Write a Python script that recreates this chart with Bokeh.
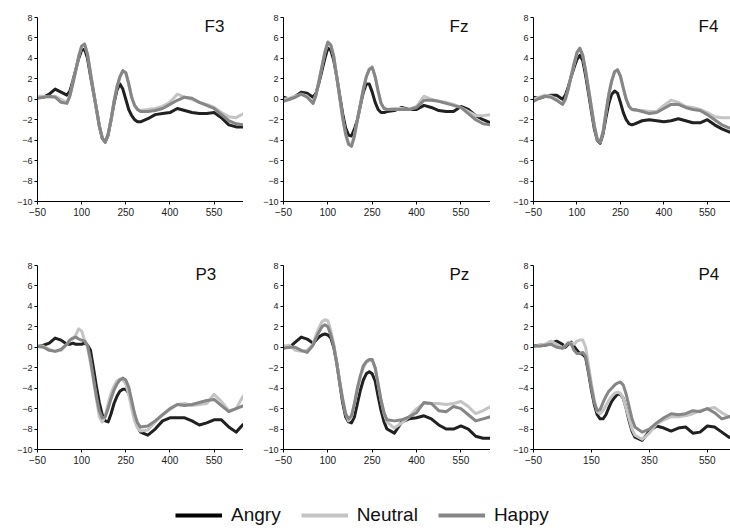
from bokeh.plotting import figure
from bokeh.layouts import column, row
from bokeh.models import FixedTicker, Label, Legend, LegendItem, Range1d
from bokeh.embed import file_html
from bokeh.resources import INLINE

# ---------------- data (ms, microvolts) ----------------
TIME = [-50, -30, -10, 10, 30, 50,
        60, 70, 80, 90, 100, 110, 120, 130, 140, 150, 160, 170, 180, 190, 200,
        210, 220, 230, 240, 250, 260, 270, 280, 290, 300,
        325, 350, 375, 400, 425, 450, 475, 500, 525, 550, 575, 600, 625, 650]

CONDITIONS = ["Angry", "Neutral", "Happy"]
PANELS = ["F3", "Fz", "F4", "P3", "Pz", "P4"]
Y_TICKS = [-10, -8, -6, -4, -2, 0, 2, 4, 6, 8]
X_TICKS_A = [-50, 100, 250, 400, 550]
X_TICKS_B = [-50, 150, 350, 550]

F3_ANGRY = [0.2, 0.2, 0.5, 1.0, 0.7, 0.4,
            0.8, 1.8, 2.9, 4.0, 4.8, 4.9, 4.0, 2.3, 0.7, -0.9, -2.6, -3.8, -4.2, -3.5, -2.0,
            -0.4, 0.9, 1.5, 1.0, 0.0, -1.0, -1.6, -2.0, -2.2, -2.2,
            -1.9, -1.5, -1.4, -1.3, -0.9, -1.1, -1.3, -1.4, -1.4, -1.3, -1.8, -2.5, -2.7, -2.7]
F3_NEUTRAL = [0.3, 0.3, 0.2, 0.3, 0.0, -0.3,
              0.4, 1.6, 2.8, 4.2, 5.2, 5.4, 4.4, 2.6, 0.8, -0.9, -2.6, -3.8, -4.2, -3.4, -2.0,
              -0.2, 1.2, 2.2, 2.8, 2.6, 1.5, 0.2, -0.6, -1.0, -1.1,
              -1.0, -0.9, -0.7, -0.3, 0.5, 0.2, 0.0, -0.3, -0.5, -0.8, -1.3, -1.7, -1.8, -1.4]
F3_HAPPY = [0.1, 0.2, 0.3, 0.2, -0.3, -0.4,
            0.3, 1.5, 2.8, 4.2, 5.2, 5.4, 4.4, 2.6, 0.8, -0.9, -2.6, -3.8, -4.2, -3.4, -2.0,
            -0.2, 1.2, 2.2, 2.8, 2.6, 1.5, 0.2, -0.6, -1.0, -1.2,
            -1.2, -1.1, -0.9, -0.5, -0.1, 0.2, 0.1, -0.3, -0.6, -0.9, -1.5, -2.1, -2.4, -2.5]

FZ_ANGRY = [0.2, 0.0, 0.3, 0.7, 0.6, 0.2,
            0.6, 1.6, 2.8, 4.0, 5.0, 4.8, 3.8, 2.2, 0.4, -1.4, -2.8, -3.5, -3.6, -2.9, -2.0,
            -0.6, 0.7, 1.5, 1.5, 0.7, -0.3, -1.0, -1.3, -1.3, -1.2,
            -1.1, -0.8, -1.0, -1.0, -0.6, -0.8, -1.1, -1.2, -1.2, -0.7, -1.0, -1.6, -2.0, -2.3]
FZ_NEUTRAL = [0.0, 0.1, 0.3, 0.5, 0.3, -0.3,
              0.5, 1.8, 3.2, 4.6, 5.5, 5.3, 4.2, 2.2, 0.2, -1.8, -3.4, -4.3, -4.5, -3.5, -2.0,
              -0.5, 1.0, 2.2, 3.0, 3.2, 2.2, 0.8, -0.4, -0.9, -1.0,
              -0.9, -0.9, -1.0, -0.7, 0.3, 0.0, -0.2, -0.3, -0.5, -0.8, -1.2, -1.6, -1.6, -1.5]
FZ_HAPPY = [-0.2, 0.0, 0.2, 0.5, 0.2, -0.4,
            0.4, 1.8, 3.2, 4.6, 5.6, 5.3, 4.2, 2.2, 0.2, -1.8, -3.4, -4.4, -4.6, -3.6, -2.0,
            -0.5, 1.0, 2.2, 2.9, 3.1, 2.2, 0.8, -0.4, -0.9, -1.0,
            -1.0, -1.0, -1.0, -0.8, -0.1, -0.1, -0.2, -0.4, -0.6, -0.8, -1.4, -2.0, -2.4, -2.5]

F4_ANGRY = [0.2, 0.1, 0.3, 0.4, 0.4, 0.0,
            0.4, 1.2, 2.2, 3.1, 3.9, 4.3, 3.8, 2.3, 0.6, -1.2, -2.9, -4.0, -4.3, -3.4, -1.8,
            -0.4, 0.5, 0.8, 0.6, -0.3, -1.3, -2.0, -2.4, -2.5, -2.4,
            -2.1, -2.0, -2.1, -2.2, -2.1, -1.9, -2.1, -2.3, -2.3, -2.0, -2.5, -2.9, -3.2, -3.3]
F4_NEUTRAL = [0.0, 0.2, 0.4, 0.3, 0.0, -0.5,
              0.0, 1.0, 2.3, 3.4, 4.5, 4.9, 4.3, 2.8, 1.0, -0.8, -2.6, -3.9, -4.2, -3.2, -1.3,
              0.5, 1.8, 2.7, 2.8, 2.2, 1.1, 0.0, -0.7, -1.0, -1.1,
              -1.1, -1.2, -1.2, -0.6, -0.1, -0.3, -0.7, -0.8, -1.0, -1.3, -1.7, -1.8, -1.8, -1.8]
F4_HAPPY = [-0.2, 0.1, 0.3, 0.2, -0.1, -0.5,
            0.0, 1.0, 2.3, 3.5, 4.6, 5.0, 4.3, 2.8, 1.0, -0.8, -2.6, -3.9, -4.2, -3.2, -1.3,
            0.5, 1.8, 2.7, 2.9, 2.3, 1.1, 0.0, -0.7, -1.0, -1.0,
            -1.2, -1.4, -1.3, -0.9, -0.5, -0.5, -0.8, -1.0, -1.1, -1.5, -2.0, -2.5, -2.8, -3.0]

P3_ANGRY = [0.1, 0.2, 0.4, 0.9, 0.7, 0.3,
            0.3, 0.4, 0.3, 0.3, 0.3, 0.4, 0.2, -0.3, -2.0, -3.8, -5.4, -6.6, -7.2, -7.3, -6.5,
            -5.5, -4.8, -4.3, -4.1, -4.1, -4.5, -5.5, -6.7, -7.8, -8.3,
            -8.6, -8.0, -7.2, -6.9, -6.9, -6.9, -7.2, -7.6, -7.4, -7.1, -7.1, -7.8, -8.3, -7.5]
P3_NEUTRAL = [0.2, 0.1, -0.2, -0.4, -0.3, 0.3,
              0.7, 0.8, 1.2, 1.8, 1.6, 0.7, 0.0, -1.5, -3.2, -5.0, -6.8, -7.3, -6.8, -5.5, -4.5,
              -3.8, -3.3, -3.1, -3.2, -3.6, -4.6, -6.0, -7.2, -7.9, -8.2,
              -8.1, -7.3, -6.6, -6.1, -5.6, -5.5, -5.7, -5.6, -5.5, -4.6, -5.3, -6.2, -6.0, -4.7]
P3_HAPPY = [0.1, 0.0, -0.3, -0.4, -0.2, 0.3,
            0.7, 0.9, 1.0, 0.8, 0.7, 0.6, 0.2, -1.2, -3.0, -4.8, -6.2, -6.9, -6.8, -6.0, -5.0,
            -4.2, -3.6, -3.2, -3.0, -3.2, -3.9, -5.2, -6.5, -7.4, -7.8,
            -7.7, -7.2, -6.6, -6.0, -5.6, -5.7, -5.6, -5.4, -5.2, -5.1, -5.7, -6.3, -6.0, -5.7]

PZ_ANGRY = [0.1, 0.0, 0.5, 1.0, 0.8, 0.4,
            0.7, 1.0, 1.2, 1.3, 1.2, 0.9, 0.0, -1.5, -3.5, -5.4, -6.8, -7.3, -7.4, -6.8, -5.5,
            -4.2, -3.2, -2.6, -2.4, -2.6, -3.3, -4.8, -6.2, -7.3, -8.0,
            -8.4, -7.3, -7.0, -6.9, -6.7, -7.0, -7.6, -8.0, -8.0, -7.7, -8.0, -8.7, -8.9, -8.9]
PZ_NEUTRAL = [0.1, 0.2, -0.3, -0.4, -0.3, 0.3,
              1.2, 1.9, 2.5, 2.7, 2.6, 1.6, 0.3, -1.5, -3.3, -5.0, -6.5, -7.2, -6.8, -5.5, -4.0,
              -2.8, -2.0, -1.5, -1.3, -1.3, -2.0, -3.6, -5.2, -6.5, -7.3,
              -7.9, -7.4, -6.8, -6.0, -5.5, -5.5, -5.5, -5.6, -5.5, -5.3, -5.8, -6.5, -6.2, -5.8]
PZ_HAPPY = [-0.1, 0.0, 0.0, -0.3, -0.5, 0.2,
            0.9, 1.5, 2.0, 2.2, 2.0, 1.2, 0.1, -1.6, -3.4, -5.1, -6.5, -7.0, -6.7, -5.5, -4.0,
            -2.8, -1.8, -1.4, -1.2, -1.2, -2.0, -3.6, -5.2, -6.4, -7.1,
            -7.2, -7.1, -6.8, -6.4, -5.4, -5.5, -6.2, -6.3, -5.8, -6.0, -6.6, -7.2, -7.0, -6.8]

P4_ANGRY = [0.1, 0.2, 0.2, 0.4, 0.6, 0.3,
            0.0, 0.3, 0.5, 0.1, -0.3, -0.6, -0.7, -1.0, -2.5, -4.2, -5.6, -6.6, -7.0, -7.0, -6.6,
            -5.9, -5.3, -4.9, -4.6, -4.6, -5.0, -6.0, -7.2, -8.2, -8.8,
            -9.1, -8.2, -7.7, -7.9, -8.2, -7.9, -7.8, -8.4, -8.3, -7.7, -7.8, -8.3, -8.8, -8.9]
P4_NEUTRAL = [0.1, 0.2, 0.3, 0.6, 0.3, -0.1,
              0.2, 0.5, 0.4, 0.3, 0.6, 0.7, 0.7, 0.0, -1.8, -3.6, -5.2, -6.3, -6.5, -6.2, -5.7,
              -5.2, -4.8, -4.5, -4.4, -4.5, -5.0, -6.0, -7.0, -8.0, -8.6,
              -9.0, -8.4, -7.5, -7.1, -6.8, -6.8, -6.7, -6.5, -6.2, -6.0, -5.9, -6.4, -6.8, -6.5]
P4_HAPPY = [0.2, 0.1, 0.2, 0.3, 0.0, -0.1,
            0.1, 0.4, 0.3, -0.3, -0.6, -0.6, -0.5, -0.9, -2.4, -4.0, -5.4, -6.2, -6.1, -5.4, -4.8,
            -4.3, -4.0, -3.7, -3.5, -3.4, -3.7, -4.6, -5.8, -7.0, -7.8,
            -8.3, -8.0, -7.4, -6.9, -6.5, -6.6, -6.5, -6.2, -6.3, -6.0, -6.4, -7.0, -6.8, -6.6]

# ---------------- styling ----------------
COLORS = {"Angry": "#202020", "Neutral": "#c4c4c4", "Happy": "#868686"}
FONT = "Liberation Sans"

SERIES = {
    "F3": [F3_ANGRY, F3_NEUTRAL, F3_HAPPY],
    "Fz": [FZ_ANGRY, FZ_NEUTRAL, FZ_HAPPY],
    "F4": [F4_ANGRY, F4_NEUTRAL, F4_HAPPY],
    "P3": [P3_ANGRY, P3_NEUTRAL, P3_HAPPY],
    "Pz": [PZ_ANGRY, PZ_NEUTRAL, PZ_HAPPY],
    "P4": [P4_ANGRY, P4_NEUTRAL, P4_HAPPY],
}

# layout per column: (figure width, left border, x range end)
COL_LAYOUT = [(243, 37, 650), (247, 40, 650), (240, 43, 630)]
ROW_LAYOUT = [(250, 17, 49), (225, 15, 26)]  # (height, top border, bottom border)
LABEL_DX = {"F3": 167, "Fz": 166, "F4": 165, "P3": 158, "Pz": 166, "P4": 165}
XTICKS = {"F3": X_TICKS_A, "Fz": X_TICKS_A, "F4": X_TICKS_A,
          "P3": X_TICKS_A, "Pz": X_TICKS_A, "P4": X_TICKS_B}


def make_panel(name, col, rw):
    w, left, x_end = COL_LAYOUT[col]
    h, top, bottom = ROW_LAYOUT[rw]
    p = figure(width=w, height=h, x_range=Range1d(-50, x_end), y_range=Range1d(-10, 8),
               output_backend="svg", toolbar_location=None, title=None,
               min_border_left=left, min_border_right=0, min_border_top=top,
               min_border_bottom=bottom)
    p.outline_line_color = None
    p.grid.visible = False
    p.background_fill_color = "white"
    p.border_fill_color = "white"
    p.xaxis.ticker = FixedTicker(ticks=XTICKS[name])
    p.yaxis.ticker = FixedTicker(ticks=Y_TICKS)
    for ax in (p.xaxis, p.yaxis):
        ax.axis_line_color = "black"
        ax.axis_line_width = 1
        ax.major_tick_line_color = "black"
        ax.major_tick_out = 3
        ax.major_tick_in = 0
        ax.minor_tick_out = 0
        ax.minor_tick_in = 0
        ax.major_label_text_font = FONT
        ax.major_label_text_color = "#1a1a1a"
    p.xaxis.major_label_text_font_size = "10px"
    p.yaxis.major_label_text_font_size = "9px"
    p.xaxis.major_label_standoff = 3
    p.yaxis.major_label_standoff = 2
    for cond, vals in zip(CONDITIONS, SERIES[name]):
        p.line(TIME, vals, line_color=COLORS[cond], line_width=3, line_join="round")
    frame_h = h - top - bottom
    p.add_layout(Label(x=LABEL_DX[name], y=frame_h + 1, x_units="screen", y_units="screen",
                       text=name, text_font=FONT, text_font_size="17px",
                       text_font_style="normal",
                       text_baseline="top", text_color="#111111"))
    return p


panels = [make_panel(n, i % 3, i // 3) for i, n in enumerate(PANELS)]

# legend strip
leg = figure(width=730, height=55, x_range=Range1d(0, 1), y_range=Range1d(0, 1),
             output_backend="svg", toolbar_location=None, title=None,
             x_axis_location=None, y_axis_location=None,
             min_border_left=0, min_border_right=0, min_border_top=0, min_border_bottom=0)
leg.outline_line_color = None
leg.grid.visible = False
items = []
for cond in CONDITIONS:
    r = leg.line([5, 6], [5, 6], line_color=COLORS[cond] if cond != "Angry" else "black",
                 line_width=4)
    items.append(LegendItem(label=cond, renderers=[r]))
legend = Legend(items=items, orientation="horizontal", location=(175, 4),
                glyph_width=47, glyph_height=20, label_height=20, label_standoff=9,
                spacing=20, padding=0, margin=0, border_line_color=None,
                background_fill_alpha=0, label_text_font=FONT,
                label_text_font_size="19px", label_text_color="#111111")
leg.add_layout(legend)

layout = column(row(*panels[:3]), row(*panels[3:]), leg)

open("out.html", "w").write(file_html(layout, INLINE))
